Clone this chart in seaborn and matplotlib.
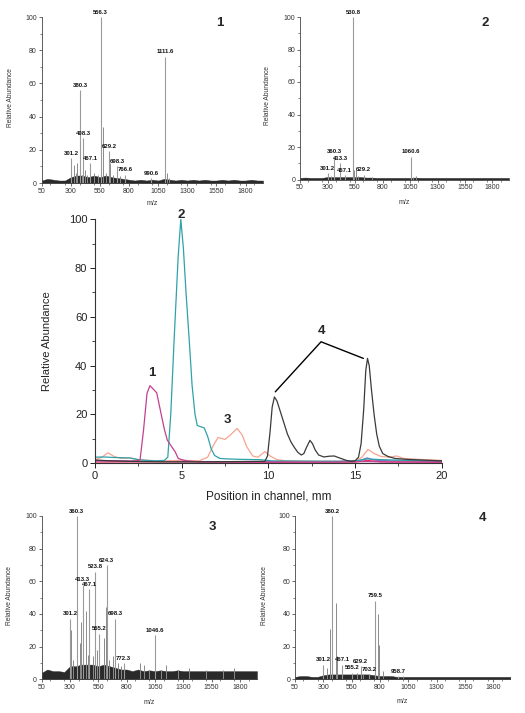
import matplotlib
matplotlib.use("Agg")
import matplotlib.pyplot as plt
from matplotlib.ticker import MultipleLocator
import seaborn as sns
import pandas as pd

# ---- mass spectra: (m/z, relative abundance) ----
# labelled peaks
p1_mz = [301.2, 380.3, 408.3, 467.1, 556.3, 629.2, 698.3, 766.6, 990.6, 1111.6]
p1_int = [15, 56, 27, 12, 100, 19, 10, 5, 3, 76]
p2_mz = [301.2, 360.3, 413.3, 457.1, 530.8, 629.2, 1060.6]
p2_int = [4, 14, 10, 2.5, 100, 3, 14]
p3_mz = [301.2, 360.3, 413.3, 467.1, 523.8, 555.2, 624.3, 698.3, 772.3, 1046.6]
p3_int = [37, 100, 58, 55, 66, 28, 70, 37, 10, 27]
p4_mz = [301.2, 380.2, 467.1, 555.2, 629.2, 703.2, 759.5, 958.7]
p4_int = [9, 100, 9, 4, 8, 3, 48, 2]

# unlabelled peaks
p1_extra_mz = [330, 345, 357, 395, 420, 440, 500, 530, 579, 600, 637, 660, 720, 1125, 1140]
p1_extra_int = [11, 6, 12, 5, 8, 5, 6, 5, 34, 6, 12, 5, 4, 6, 3]
p2_extra_mz = [330, 545, 560, 580, 700, 1080, 1100]
p2_extra_int = [2, 6, 6, 2, 1.5, 1.5, 2]
p3_extra_mz = [310, 330, 390, 400, 440, 455, 500, 540, 600, 618, 640, 680, 720, 750,
               920, 950, 1000, 1100, 1150, 1250, 1350, 1500, 1650, 1750]
p3_extra_int = [30, 12, 22, 35, 42, 15, 14, 18, 25, 44, 12, 14, 10, 8,
                10, 9, 6, 6, 9, 6, 7, 6, 6, 7]
p4_extra_mz = [330, 357, 409, 420, 600, 650, 785, 790, 830, 1000]
p4_extra_int = [7, 31, 47, 14, 4, 3, 40, 21, 5, 2]

# baseline noise level
noise_mz = [50, 100, 150, 200, 250, 300, 350, 400, 450, 500, 550, 600, 650, 700, 750,
            800, 850, 900, 950, 1000, 1050, 1100, 1150, 1200, 1250, 1300, 1350, 1400,
            1450, 1500, 1550, 1600, 1650, 1700, 1750, 1800, 1850, 1900, 1950]
p1_noise = [1.5, 2.5, 2, 1.5, 1.5, 3.5, 4.5, 4.5, 3.5, 4.5, 3.5, 4.5, 3.5, 3, 2.5, 2, 1.5,
            2, 1.5, 2, 1.5, 2.5, 2, 1.5, 2, 1.5, 2, 1.5, 2, 1.5, 1.5, 2, 1.5, 2, 1.5, 1.5,
            2, 1.5, 1.5]
p2_noise = [1, 1.2, 1, 1, 1, 1.5, 1.5, 1.5, 1.5, 1.5, 1.5, 1.5, 1.2, 1.2, 1, 1, 1, 1, 1,
            1, 1, 1.2, 1, 1, 1, 1, 1, 1, 1, 1, 1, 1, 1, 1, 1, 1, 1, 1, 1]
p3_noise = [4, 6, 5, 5, 4.5, 8, 8, 9, 9, 9, 8, 9, 8, 7, 6, 6, 5, 6, 5, 5.5, 5, 5.5, 5, 5,
            5.5, 5, 5, 5, 5, 5, 5, 5, 5, 5, 5, 5, 5, 5, 5]
p4_noise = [1.5, 2, 2, 1.5, 1.5, 2.5, 3, 3, 3, 3, 3, 3, 3, 3, 2.5, 2, 2, 2, 1.5, 1.5, 1.5,
            1.5, 1.5, 1.5, 1.5, 1.5, 1.5, 1.5, 1.5, 1.5, 1.5, 1.5, 1.5, 1.5, 1.5, 1.5,
            1.5, 1.5, 1.5]

# ---- chromatogram traces along the channel ----
mag_x = [0, 1, 2, 2.4, 2.6, 2.8, 3.0, 3.17, 3.35, 3.56, 3.85, 4.0, 4.17, 4.42, 4.62, 4.8,
         5.0, 5.3, 6, 8, 10, 12, 14, 15.7, 17, 20]
mag_y = [1.2, 1.0, 0.9, 1.0, 1.5, 13.6, 28.7, 31.8, 30.5, 28.9, 19, 14, 9.5, 6.8, 4.8, 2.0,
         1.5, 1.0, 0.6, 0.5, 0.5, 0.5, 0.5, 0.7, 0.5, 0.5]
teal_x = [0, 0.5, 1, 2, 2.5, 3, 3.5, 4.0, 4.2, 4.37, 4.56, 4.8, 4.95, 5.1, 5.25, 5.44, 5.6,
          5.77, 5.9, 6.1, 6.3, 6.5, 6.7, 6.9, 7.2, 7.6, 8.5, 9.5, 10.2, 12, 14, 15, 15.7,
          16.5, 18, 20]
teal_y = [2.5, 2.6, 2.4, 2.2, 1.5, 1.2, 1.0, 1.2, 2.5, 20, 50, 85, 100, 88, 70, 50, 32,
          20, 15.5, 15, 14.5, 11, 6, 3.2, 2.0, 1.8, 1.6, 1.5, 1.0, 0.9, 0.8, 0.9, 1.8,
          1.5, 1.2, 1.0]
salmon_x = [0, 0.4, 0.75, 1.1, 1.5, 2.0, 2.5, 3, 4, 5, 6, 6.5, 6.8, 7.1, 7.5, 7.8, 8.2,
            8.5, 8.75, 9.1, 9.4, 9.8, 10.1, 10.5, 11, 13, 15, 15.4, 15.75, 16.1, 16.5, 17,
            17.4, 17.8, 19, 20]
salmon_y = [1.5, 2.5, 4.3, 2.8, 2.0, 2.2, 1.5, 1.2, 1.0, 1.2, 1.0, 2.5, 7, 10.6, 9.8, 11.5,
            14.3, 11.5, 6.8, 3.0, 2.5, 4.8, 3.0, 1.5, 1.0, 0.8, 0.8, 2.5, 5.7, 4.0, 2.8,
            2.5, 3.0, 2.0, 1.5, 1.2]
black_x = [0, 1, 2, 4, 6, 8, 9.5, 9.8, 9.95, 10.1, 10.22, 10.35, 10.5, 10.7, 10.9, 11.1,
           11.3, 11.5, 11.7, 11.9, 12.05, 12.2, 12.4, 12.55, 12.7, 12.9, 13.2, 13.5, 13.8,
           14.1, 14.5, 14.8, 15.0, 15.2, 15.35, 15.5, 15.62, 15.72, 15.82, 15.95, 16.1,
           16.25, 16.4, 16.6, 16.9, 17.3, 18, 20]
black_y = [1.3, 1.0, 0.8, 0.6, 0.6, 0.7, 0.8, 0.8, 3, 13, 23, 27.2, 25.5, 21, 16.5, 12,
           8.8, 6.5, 4.5, 3.4, 4, 6.5, 9.4, 8, 5.5, 3.4, 2.6, 2.9, 3.0, 2.2, 1.2, 0.8,
           1.0, 2.5, 8, 22, 38, 43, 40, 30, 20, 12, 7, 4, 2.8, 2.0, 1.6, 1.0]
red_x = [0, 5, 10, 15, 15.7, 16.5, 20]
red_y = [0.5, 0.6, 0.4, 0.5, 1.2, 0.6, 0.4]
blue_x = [0, 3, 6, 10, 14, 15.3, 15.7, 16.1, 17, 20]
blue_y = [1.0, 0.8, 0.7, 0.6, 0.8, 1.2, 2.2, 1.3, 1.0, 0.8]

traces = [
    ("blue", blue_x, blue_y, "#7a6cc8"),
    ("red", red_x, red_y, "#e8336b"),
    ("salmon", salmon_x, salmon_y, "#f6a48e"),
    ("teal", teal_x, teal_y, "#2ea2a8"),
    ("magenta", mag_x, mag_y, "#c2408f"),
    ("black", black_x, black_y, "#3a3a3a"),
]

sns.set_style("ticks")
plt.rcParams["font.family"] = ["Liberation Sans", "DejaVu Sans"]

W, H = 525, 713
fig = plt.figure(figsize=(W / 100, H / 100), dpi=100)


def box(x0, x1, ytop, ybot):
    return [x0 / W, 1 - ybot / H, (x1 - x0) / W, (ybot - ytop) / H]


def spectrum(rect, mz, inten, ex_mz, ex_int, noise, tag, tag_xy, ylab_x, mz_y):
    ax = fig.add_axes(rect)
    ax.fill_between(noise_mz, 0, noise, color="#2a2a2a", lw=0.3)
    ax.vlines(ex_mz, 0, ex_int, color="#8a8a8a", lw=0.7)
    ax.vlines(mz, 0, inten, color="#9a9a9a", lw=0.8)
    for m, v in zip(mz, inten):
        ax.text(m, min(v, 100) + 1.5, f"{m:.1f}", fontsize=4.3, fontweight="bold",
                ha="center", va="bottom", color="#111111")
    ax.text(tag_xy[0], tag_xy[1], tag, fontsize=9.5, fontweight="bold",
            ha="center", va="center")
    ax.set_xlim(50, 1950)
    ax.set_ylim(0, 100)
    ax.set_xticks([50, 300, 550, 800, 1050, 1300, 1550, 1800])
    ax.set_yticks([0, 20, 40, 60, 80, 100])
    ax.xaxis.set_minor_locator(MultipleLocator(125))
    ax.yaxis.set_minor_locator(MultipleLocator(10))
    ax.tick_params(labelsize=5, length=2, width=0.5, pad=1.5, colors="#333333")
    ax.tick_params(which="minor", length=1.2, width=0.4)
    sns.despine(ax=ax)
    for s in ("left", "bottom"):
        ax.spines[s].set_linewidth(0.6)
        ax.spines[s].set_color("#444444")
    ax.set_ylabel("Relative Abundance", fontsize=4.8, color="#333333")
    ax.yaxis.set_label_coords(ylab_x, 0.515)
    ax.set_xlabel("m/z", fontsize=5, color="#333333")
    ax.xaxis.set_label_coords(0.5, mz_y)
    return ax


spectrum(box(41.7, 263, 17, 183), p1_mz, p1_int, p1_extra_mz, p1_extra_int, p1_noise,
         "1", (1580, 96.4), -0.126, -0.102)
spectrum(box(300, 509, 17, 179.5), p2_mz, p2_int, p2_extra_mz, p2_extra_int, p2_noise,
         "2", (1733, 96.3), -0.137, -0.118)
spectrum(box(41.7, 257, 516, 679.3), p3_mz, p3_int, p3_extra_mz, p3_extra_int, p3_noise,
         "3", (1554, 93.3), -0.131, -0.119)
spectrum(box(295, 510.3, 516, 679.3), p4_mz, p4_int, p4_extra_mz, p4_extra_int, p4_noise,
         "4", (1707, 98.8), -0.124, -0.115)

# ---- central chromatogram ----
ax = fig.add_axes(box(95, 441.7, 219.3, 463.3))
for name, xs, ys, col in traces:
    df = pd.DataFrame({"x": xs, "y": ys})
    sns.lineplot(data=df, x="x", y="y", ax=ax, color=col, lw=0.9, sort=False,
                 estimator=None)
ax.set_xlim(0, 20)
ax.set_ylim(0, 100)
ax.set_xticks([0, 5, 10, 15, 20])
ax.set_yticks([0, 20, 40, 60, 80, 100])
ax.xaxis.set_minor_locator(MultipleLocator(2.5))
ax.yaxis.set_minor_locator(MultipleLocator(10))
ax.tick_params(labelsize=8, length=3.5, width=0.7, pad=2, colors="#222222")
ax.tick_params(which="minor", length=2, width=0.6)
sns.despine(ax=ax)
for s in ("left", "bottom"):
    ax.spines[s].set_linewidth(0.8)
    ax.spines[s].set_color("#333333")
ax.set_ylabel("Relative Abundance", fontsize=8, color="#222222")
ax.yaxis.set_label_coords(-0.124, 0.5)
ax.set_xlabel("Position in channel, mm", fontsize=8.5, color="#222222")
ax.xaxis.set_label_coords(0.5, -0.113)

for lab, x, y in [("1", 3.27, 36.9), ("2", 5.0, 101.8), ("3", 7.65, 17.7), ("4", 13.04, 54.2)]:
    ax.text(x, y, lab, fontsize=9.5, fontweight="bold", ha="center", va="center")
ax.plot([10.4, 13.04, 15.48], [29.3, 49.8, 43], color="black", lw=1.0, clip_on=False)

fig.savefig("out.png", dpi=100)
